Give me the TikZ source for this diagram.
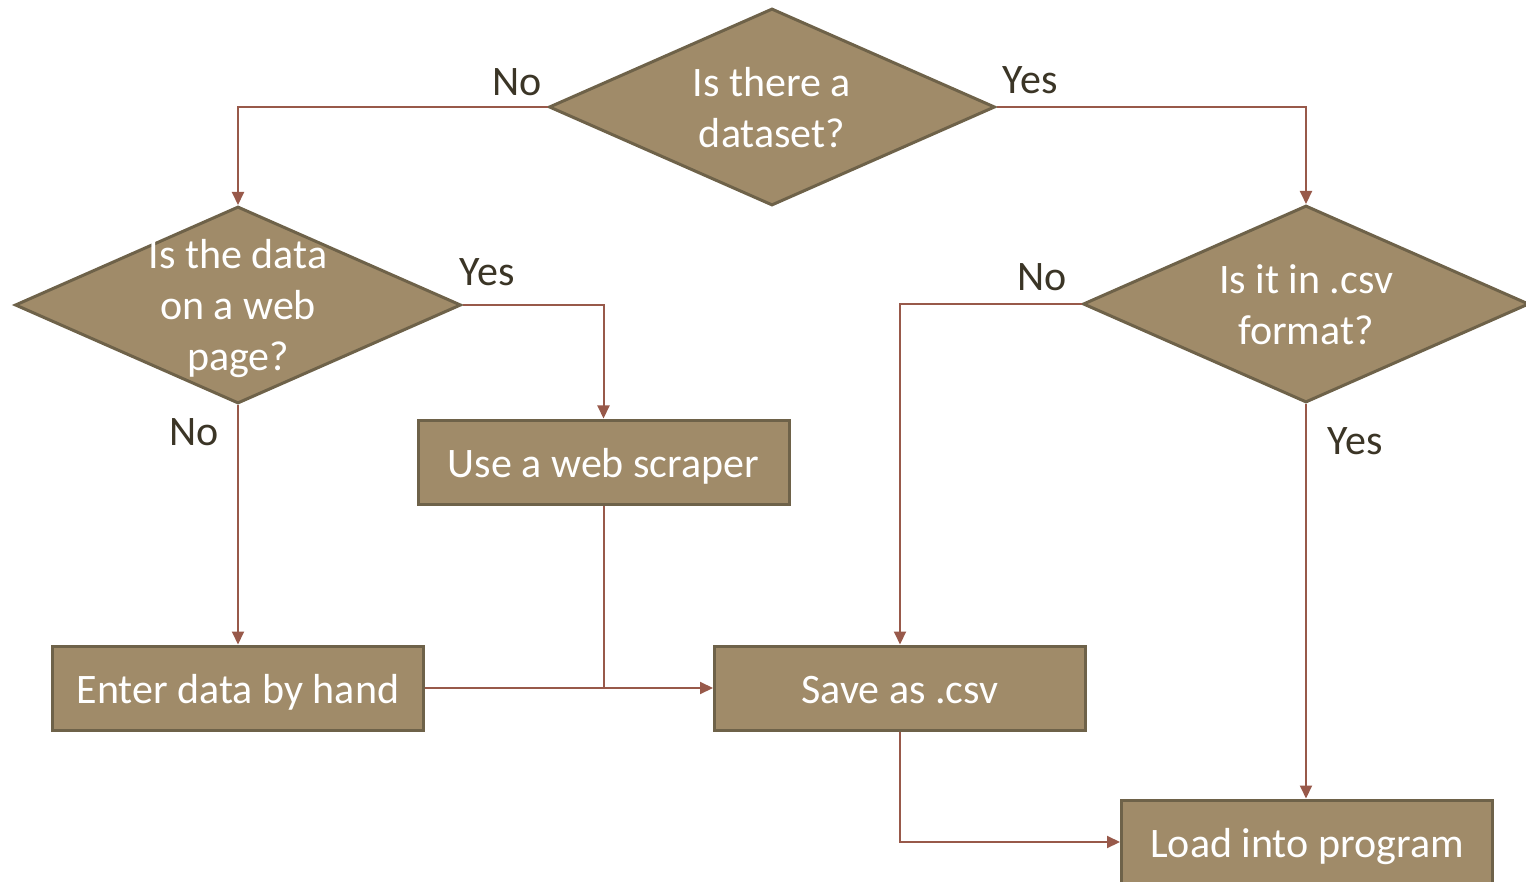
\documentclass[tikz,border=0pt]{standalone}
\usepackage{fontspec}
\setmainfont{Carlito}
\usetikzlibrary{shapes.geometric,arrows.meta}
\definecolor{boxfill}{HTML}{A08B69}
\definecolor{boxline}{HTML}{6E6249}
\definecolor{conn}{HTML}{98594A}
\definecolor{lbl}{HTML}{3B3526}
\tikzset{
  dia/.style={diamond,draw=boxline,fill=boxfill,line width=3pt,inner sep=0pt,minimum width=446pt,minimum height=197pt},
  boxnode/.style={rectangle,draw=boxline,fill=boxfill,line width=3pt,inner sep=0pt,minimum width=371pt,minimum height=84pt,text=white,font=\fontsize{42}{51}\selectfont,text height=30pt,text depth=0pt},
  dtext/.style={text=white,align=center,font=\fontsize{42}{51}\selectfont,inner sep=0pt},
  lab/.style={text=lbl,font=\fontsize{42}{51}\selectfont,inner sep=0pt},
  conn/.style={draw=conn,line width=2pt},
  arr/.style={conn,-{Triangle[length=13pt,width=12pt]}}
}
\begin{document}
\begin{tikzpicture}[x=1pt,y=-1pt]
\useasboundingbox (0,0) rectangle (1526,882);
\clip (0,0) rectangle (1526,882);
\fill[white] (0,0) rectangle (1526,882);
% nodes
\node[dia] (d1) at (772,107) {};
\node[dtext] (t1) at (772,108) {Is there a\\dataset?};
\node[dia] (d2) at (238,305) {};
\node[dtext] (t2) at (238,309) {Is the data\\on a web\\page?};
\node[dia] (d3) at (1306,304) {};
\node[dtext] (t3) at (1306,305) {Is it in .csv\\format?};
\node[boxnode] (scr) at (603.5,462) {Use a web scraper};
\node[boxnode] (ent) at (238,688) {Enter data by hand};
\node[boxnode] (sav) at (900,688) {Save as .csv};
\node[boxnode] (lod) at (1307,842) {Load into program};
% helper coordinates
\coordinate (j1) at (scr.south |- sav.west);
% connectors
\draw[arr] (d1.west) -| (d2.north);
\draw[arr] (d1.east) -| (d3.north);
\draw[arr] (d2.east) -| (scr.north);
\draw[arr] (d2.south) -- (ent.north);
\draw[arr] (d3.west) -| (sav.north);
\draw[arr] (d3.south) -- (d3.south |- lod.north);
\draw[arr] (ent.east) -- (sav.west);
\draw[conn] (scr.south) -- (j1);
\draw[arr] (sav.south) |- (lod.west);
% labels
\node[lab] (l1) at (517,82) {No};
\node[lab] (l2) at (1030,80) {Yes};
\node[lab] (l3) at (487,272) {Yes};
\node[lab] (l4) at (194,432) {No};
\node[lab] (l5) at (1042,277) {No};
\node[lab] (l6) at (1355,441) {Yes};
\end{tikzpicture}
\end{document}
